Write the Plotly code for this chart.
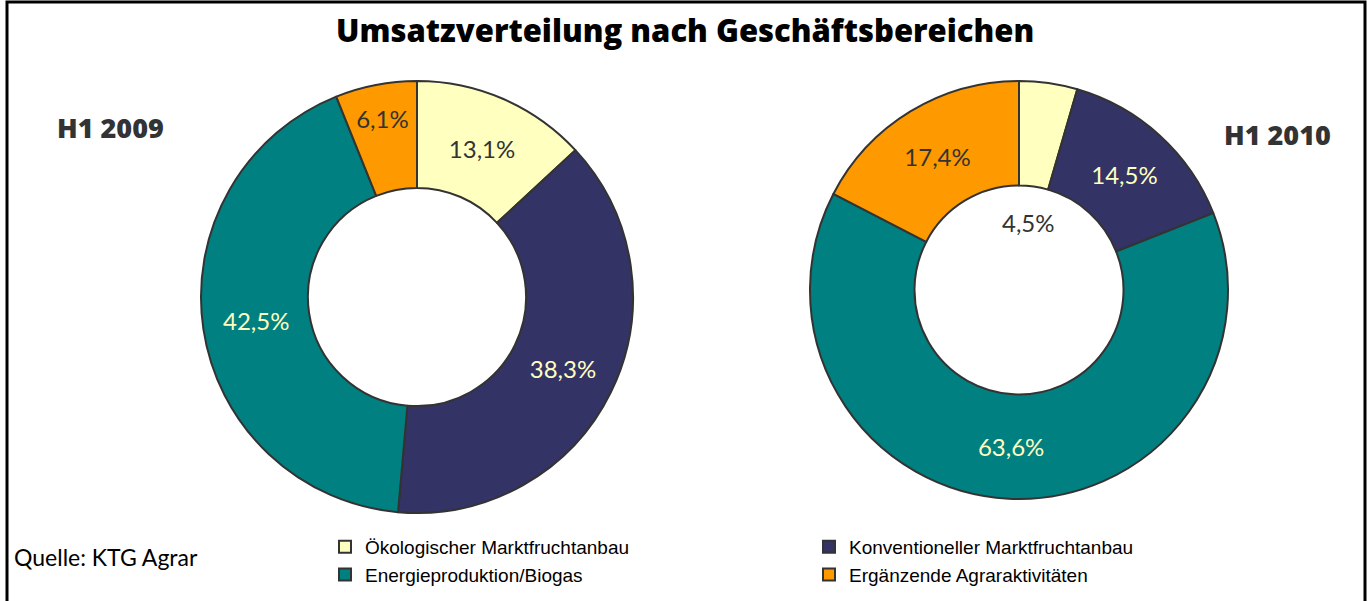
import math
import plotly.graph_objects as go

W, H = 1369, 601

categories = ["Ökologischer Marktfruchtanbau", "Konventioneller Marktfruchtanbau",
              "Energieproduktion/Biogas", "Ergänzende Agraraktivitäten"]
values_2009 = [13.1, 38.3, 42.5, 6.1]
values_2010 = [4.5, 14.5, 63.6, 17.4]
period_labels = ["H1 2009", "H1 2010"]

colors = ["#FFFFC0", "#333366", "#008080", "#FF9900"]
text_colors = ["#333333", "#FFFFC0", "#FFFFC0", "#333333"]
LABEL_FONT = "Lato"
BOLD_FONT = "Open Sans"
LABEL_SIZE = 24


def fmt(v):
    return f"{v:.1f}".replace(".", ",") + "%"


def px_domain(cx, cy, r):
    return dict(x=[(cx - r) / W, (cx + r) / W], y=[(H - (cy + r)) / H, (H - (cy - r)) / H])


fig = go.Figure()

fig.add_trace(go.Pie(
    labels=categories, values=values_2009, sort=False, direction="clockwise", rotation=0,
    hole=0.505, domain=px_domain(417, 297, 216),
    marker=dict(colors=colors, line=dict(color="#333333", width=2)),
    text=[fmt(v) for v in values_2009], textinfo="text", textposition="inside",
    insidetextorientation="horizontal",
    insidetextfont=dict(family=LABEL_FONT, size=LABEL_SIZE, color=text_colors),
    showlegend=True, hoverinfo="skip",
))

text2 = [fmt(v) for v in values_2010]
text2_shown = [""] + text2[1:]
fig.add_trace(go.Pie(
    labels=categories, values=values_2010, sort=False, direction="clockwise", rotation=0,
    hole=0.5, domain=px_domain(1019, 290, 209),
    marker=dict(colors=colors, line=dict(color="#333333", width=2)),
    text=text2_shown, textinfo="text", textposition="inside",
    insidetextorientation="horizontal",
    insidetextfont=dict(family=LABEL_FONT, size=LABEL_SIZE, color=text_colors),
    showlegend=False, hoverinfo="skip",
))

# label of the small first slice of 2010, placed in the hole at the slice's mid angle
mid = (values_2010[0] / 2) / sum(values_2010) * 2 * math.pi
cx2, cy2, rlab = 1019, 290, 68
ax = cx2 + rlab * math.sin(mid)
ay = cy2 - rlab * math.cos(mid)


def ann(text, x, y, font, xanchor="center"):
    return dict(text=text, x=x / W, y=(H - y) / H, xref="paper", yref="paper",
                xanchor=xanchor, yanchor="middle", showarrow=False, font=font)


annotations = [
    ann(text2[0], ax, ay, dict(family=LABEL_FONT, size=LABEL_SIZE, color="#333333")),
    ann("Umsatzverteilung nach Geschäftsbereichen", 685, 30,
        dict(family=BOLD_FONT, size=31, color="#000000", weight=800)),
    ann(period_labels[0], 55, 127, dict(family=BOLD_FONT, size=27, color="#333333", weight=800),
        xanchor="left"),
    ann(period_labels[1], 1333, 134, dict(family=BOLD_FONT, size=27, color="#333333", weight=800),
        xanchor="right"),
    ann("Quelle: KTG Agrar", 12, 557, dict(family=LABEL_FONT, size=23, color="#000000"),
        xanchor="left"),
]

fig.update_layout(
    width=W, height=H, autosize=False,
    margin=dict(l=0, r=0, t=0, b=0),
    paper_bgcolor="white", plot_bgcolor="white",
    annotations=annotations,
    uniformtext=dict(minsize=LABEL_SIZE, mode="show"),
    legend=dict(orientation="h", x=325 / W, y=(H - 528) / H, xanchor="left", yanchor="top",
                entrywidth=439, entrywidthmode="pixels",
                font=dict(family="Liberation Sans", size=19, color="#000000"),
                bgcolor="rgba(0,0,0,0)", itemclick=False),
    shapes=[dict(type="rect", xref="paper", yref="paper",
                 x0=7 / W, x1=1365 / W, y0=-0.02, y1=(H - 2) / H,
                 line=dict(color="#000000", width=3), fillcolor="rgba(0,0,0,0)")],
)

fig.write_html(
    "out.html",
    config={"responsive": False, "displayModeBar": False},
    post_script="document.body.style.margin='0';document.body.style.overflow='hidden';",
)
